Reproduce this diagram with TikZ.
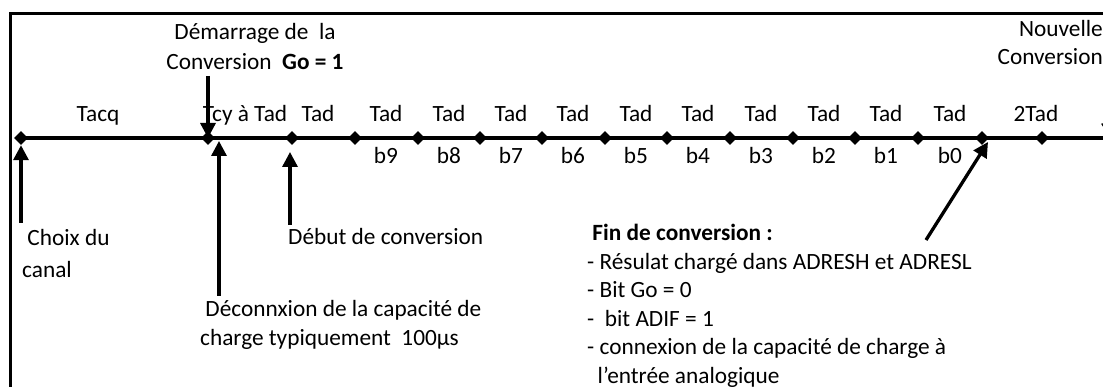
\documentclass[tikz,border=0pt]{standalone}
\usepackage{fontspec}
\setmainfont{Carlito}
\usetikzlibrary{shapes.geometric,arrows.meta}

\begin{document}
\begin{tikzpicture}
  [x=1pt,y=-1pt,
   every node/.style={font=\fontsize{23.3}{28.5}\selectfont,inner sep=0pt},
   tick/.style={diamond,fill=black,minimum size=14pt},
   lbl/.style={anchor=base},
   txt/.style={anchor=base west,align=left},
   arr/.style={line width=3.3pt,-{Triangle[length=15pt,width=15pt]}}]
  \useasboundingbox (0,0) rectangle (1103,387);
  \clip (0,0) rectangle (1103,387);

  % cadre
  \draw[line width=3pt] (10,420) -- (10,14) -- (1130,14);

  % axe du temps
  \node[tick] (d0) at (21,138) {};
  \node[tick] (d1) at (208,138) {};
  \node[tick] (d2) at (292,138) {};
  \node[tick] (d3) at (355,138) {};
  \node[tick] (d4) at (418,138) {};
  \node[tick] (d5) at (480,138) {};
  \node[tick] (d6) at (542,138) {};
  \node[tick] (d7) at (605,138) {};
  \node[tick] (d8) at (667,138) {};
  \node[tick] (d9) at (730,138) {};
  \node[tick] (d10) at (793,138) {};
  \node[tick] (d11) at (855,138) {};
  \node[tick] (d12) at (918,138) {};
  \node[tick] (d13) at (982,138) {};
  \node[tick] (d14) at (1042,138) {};
  \coordinate (fin) at (1110,138);
  \draw[line width=3.3pt] (d0.center) -- (fin);

  % durees
  \node[lbl] (tacq) at (98,122) {Tacq};
  \node[lbl] (tcy) at (245,122) {Tcy à Tad};
  \node[lbl] (t1) at (318,122) {Tad};
  \node[lbl] (t2) at (386,122) {Tad};
  \node[lbl] (t3) at (449,122) {Tad};
  \node[lbl] (t4) at (511,122) {Tad};
  \node[lbl] (t5) at (573,122) {Tad};
  \node[lbl] (t6) at (636,122) {Tad};
  \node[lbl] (t7) at (698,122) {Tad};
  \node[lbl] (t8) at (761,122) {Tad};
  \node[lbl] (t9) at (824,122) {Tad};
  \node[lbl] (t10) at (886,122) {Tad};
  \node[lbl] (t11) at (950,122) {Tad};
  \node[lbl] (t12) at (1036,122) {2Tad};

  % bits
  \node[lbl] (b9) at (386,164) {b9};
  \node[lbl] (b8) at (449,164) {b8};
  \node[lbl] (b7) at (511,164) {b7};
  \node[lbl] (b6) at (573,164) {b6};
  \node[lbl] (b5) at (636,164) {b5};
  \node[lbl] (b4) at (698,164) {b4};
  \node[lbl] (b3) at (761,164) {b3};
  \node[lbl] (b2) at (824,164) {b2};
  \node[lbl] (b1) at (886,164) {b1};
  \node[lbl] (b0) at (950,164) {b0};

  % textes (base = derniere ligne)
  \node[txt,align=center,anchor=base] (start) at (255,70)
    {Démarrage de\ \ la\\[1.5pt]Conversion\ \ \textbf{Go = 1}};
  \node[txt,align=right,anchor=base east] (next) at (1103,65)
    {Nouvelle\\Conversion};
  \node[txt] (choix) at (22,278) {\ Choix du\\[3.5pt]canal};
  \node[txt] (debut) at (288,245) {Début de conversion};
  \node[txt] (decon) at (200,345)
    {\ Déconnxion de la capacité de\\charge typiquement\ \ 100µs};
  \node[txt] (eoc) at (587,383)
    {\ \textbf{Fin de conversion :}\\
     - Résulat chargé dans ADRESH et ADRESL\\
     - Bit Go = 0\\
     -\ \ bit ADIF = 1\\
     - connexion de la capacité de charge à\\
     \ \ l’entrée analogique};

  % fleches
  \coordinate (a0) at (21,223);
  \coordinate (a1) at (208,76);
  \coordinate (a2) at (219,296);
  \coordinate (a3) at (290,225);
  \coordinate (a4) at (926,240);
  \coordinate (a5) at (1106,80);
  \coordinate (e2) at (219,141);
  \coordinate (e3) at (290,152);
  \coordinate (e4) at (988,142);
  \draw[arr] (a0) -- (d0);
  \draw[arr] (a1) -- (d1.center);
  \draw[arr] (a2) -- (e2);
  \draw[arr] (a3) -- (e3);
  \draw[arr] (a4) -- (e4);
  \draw[arr] (a5) -- (fin);
\end{tikzpicture}
\end{document}
